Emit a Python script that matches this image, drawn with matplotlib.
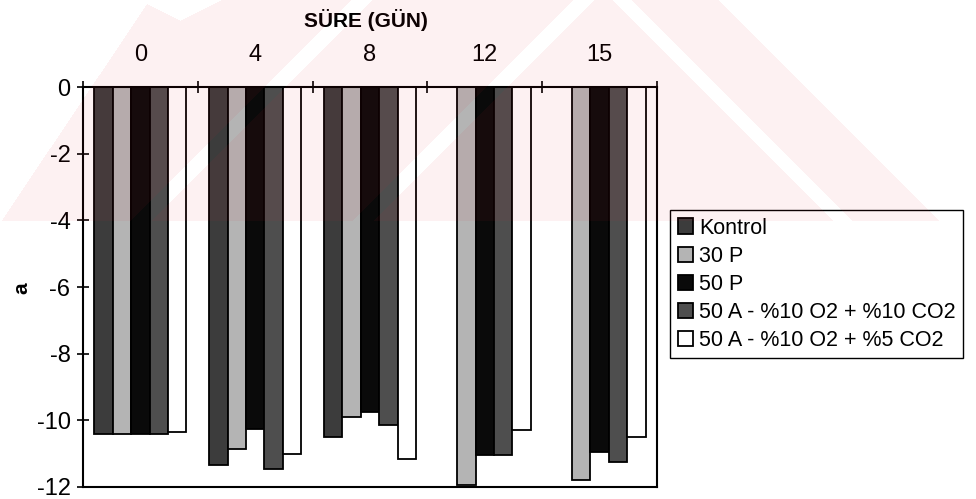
import numpy as np
import matplotlib
matplotlib.use("Agg")
import matplotlib.pyplot as plt

plt.rcParams['font.family'] = ['Liberation Sans', 'DejaVu Sans']
plt.rcParams['axes.unicode_minus'] = False

# storage days and colour parameter "a" per treatment
days = ['0', '4', '8', '12', '15']
kontrol = [-10.4, -11.35, -10.5, np.nan, np.nan]
p30 = [-10.4, -10.85, -9.9, -11.95, -11.8]
p50 = [-10.4, -10.25, -9.75, -11.05, -10.95]
a50_co2_10 = [-10.4, -11.45, -10.15, -11.05, -11.25]
a50_co2_5 = [-10.35, -11.0, -11.15, -10.3, -10.5]

series = [
    ('Kontrol', kontrol, '#3c3c3c'),
    ('30 P', p30, '#b4b4b4'),
    ('50 P', p50, '#0a0a0a'),
    ('50 A - %10 O2 + %10 CO2', a50_co2_10, '#4e4e4e'),
    ('50 A - %10 O2 + %5 CO2', a50_co2_5, '#ffffff'),
]

W, H = 976, 499
fig = plt.figure(figsize=(W / 100, H / 100), dpi=100)
ax = fig.add_axes([83 / W, 12 / H, 574 / W, 400 / H])

x = np.arange(len(days))
w = 0.16
for i, (name, vals, col) in enumerate(series):
    ax.bar(x + (i - 2) * w, vals, w, color=col, edgecolor='black',
           linewidth=1.3, label=name)

ax.set_xlim(-0.5, len(days) - 0.5)
ax.set_ylim(-12, 0)

# category labels on top, tick marks between groups
ax.xaxis.tick_top()
ax.set_xticks(x)
ax.set_xticklabels(days)
ax.set_xticks(np.arange(-0.5, len(days)), minor=True)
ax.tick_params(axis='x', which='major', length=0, pad=15, labelsize=17)
ax.tick_params(axis='x', which='minor', top=True, bottom=False,
               direction='inout', length=8, width=1.2)
ax.set_yticks(np.arange(-12, 1, 2))
ax.tick_params(axis='y', direction='inout', length=8, width=1.2,
               pad=5, labelsize=17)
for s in ax.spines.values():
    s.set_linewidth(1.5)

fig.text(366 / W, 1 - 20 / H, 'SÜRE (GÜN)', ha='center', va='center',
         fontsize=15, fontweight='bold',
         family=['Liberation Sans Narrow', 'Liberation Sans'])
fig.text(22 / W, 1 - 288 / H, 'a', rotation=90, ha='center', va='center',
         fontsize=15, fontweight='bold')

ax.legend(loc='upper left', bbox_to_anchor=(670 / W, 1 - 210 / H),
          bbox_transform=fig.transFigure, fancybox=False, edgecolor='black',
          framealpha=1, fontsize=15.5, handlelength=0.7, handleheight=0.7,
          handletextpad=0.3, labelspacing=0.33, borderpad=0.35,
          borderaxespad=0)

# faint pink watermark band across the upper part of the page
yy, xx = np.mgrid[0:H, 0:W]
mask = (yy <= 220) & (xx >= 149 - yy * 149 / 222) & (xx - yy <= 718)
mask &= ~((yy <= 20 - np.abs(xx - 180) * 20 / 40))
mask &= ~(((xx + yy) > 350) & ((xx + yy) < 372))
mask &= ~(((xx + yy) > 572) & ((xx + yy) < 594))
mask &= ~(((xx - yy) > 612) & ((xx - yy) < 632))
rgba = np.zeros((H, W, 4))
rgba[..., 0] = 230 / 255
rgba[..., 1] = 30 / 255
rgba[..., 2] = 47 / 255
rgba[..., 3] = np.where(mask, 0.06, 0.0)
im = fig.figimage(rgba[::-1], origin='lower')
im.set_zorder(10)

fig.savefig('out.png', dpi=100)
